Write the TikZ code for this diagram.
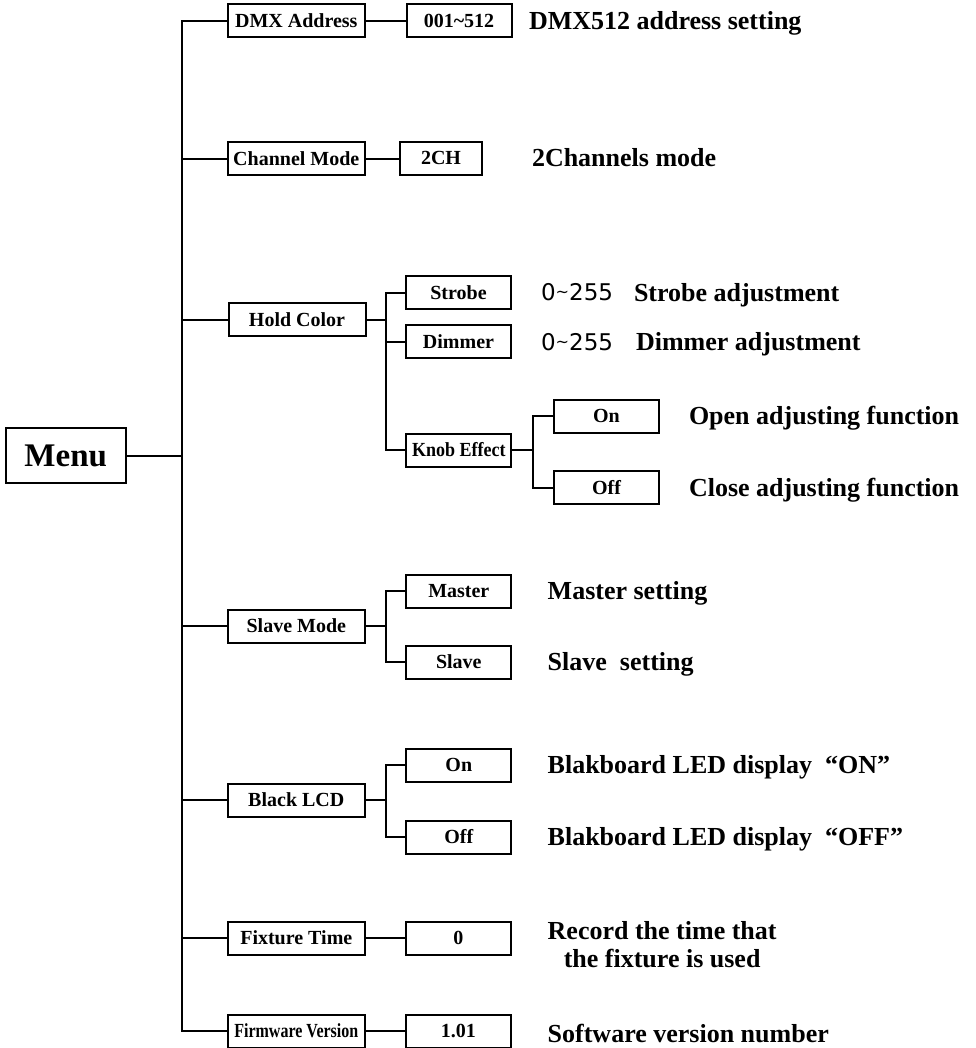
\documentclass[tikz,border=0pt]{standalone}
\usepackage{fontspec}
\setmainfont{Liberation Serif}
\newfontfamily\numfont{DejaVu Sans}
\usetikzlibrary{positioning}

\begin{document}
\begin{tikzpicture}[x=0.5pt, y=-0.5pt, line width=1pt,
  itembox/.style={draw, inner sep=0pt, minimum width=68.5pt, minimum height=16.5pt,
    text height=6.6pt, text depth=0pt, font=\bfseries\fontsize{10}{12}\selectfont},
  valbox/.style={itembox, minimum width=52.5pt},
  note/.style={anchor=west, inner sep=0pt, text height=8.6pt, text depth=0pt,
    font=\bfseries\fontsize{13}{15}\selectfont},
  rangeval/.style={anchor=west, inner sep=0pt, text height=8.4pt, text depth=0pt,
    font=\numfont\fontsize{11.5}{13}\selectfont}]
  \useasboundingbox (0,0) rectangle (975,1048);

  % root
  \node[draw, inner sep=0pt, minimum width=60pt, minimum height=27.7pt,
    font=\bfseries\fontsize{16.5}{18}\selectfont] (menu) at (65.7,455.7) {Menu};

  % first level
  \node[itembox] (dmx)   at (296.3,20.7)  {DMX Address};
  \node[itembox] (chan)  at (296.3,158.8) {Channel Mode};
  \node[itembox] (hold)  at (297,319.7)   {Hold Color};
  \node[itembox] (slave) at (296.3,626)   {Slave Mode};
  \node[itembox] (black) at (296.3,800)   {Black LCD};
  \node[itembox] (fix)   at (296.3,938)   {Fixture Time};
  \node[itembox] (fw)    at (296.3,1031)  {\scalebox{0.8}[1]{Firmware Version}};

  % trunk
  \coordinate (t1) at (181.7,20.7);
  \coordinate (t2) at (181.7,1031);
  \draw (dmx.west) -- (t1) -- (t2) -- (fw.west);
  \draw (menu.east) -- (menu.east -| t1);
  \foreach \n in {chan,hold,slave,black,fix}
    \draw (\n.west) -- (\n.west -| t1);

  % second level
  \node[valbox] (addr) at (459,20.7) {001\textasciitilde512};
  \node[valbox, minimum width=41pt] (ch) at (441,158.2) {2CH};
  \draw (dmx) -- (addr);
  \draw (chan.east) -- (chan.east -| ch.west);

  \node[valbox] (strobe) at (458.5,292.5) {Strobe};
  \node[valbox] (dimmer) at (458.5,341.7) {Dimmer};
  \node[valbox] (knob)   at (458.8,450)   {\scalebox{0.9}[1]{Knob Effect}};
  \coordinate (h) at (385.7,319.7);
  \draw (hold.east) -- (h);
  \draw (strobe.west) -| (h) |- (knob.west);
  \draw (dimmer.west) -- (dimmer.west -| h);

  \node[valbox] (kon)  at (606.5,416)   {On};
  \node[valbox] (koff) at (606.5,487.5) {Off};
  \coordinate (k) at (532.7,450);
  \draw (knob.east) -- (k);
  \draw (kon.west) -| (k) |- (koff.west);

  \node[valbox] (master) at (458.8,591)   {Master};
  \node[valbox] (slv)    at (458.8,662.3) {Slave};
  \coordinate (s) at (385.7,626);
  \draw (slave.east) -- (s);
  \draw (master.west) -| (s) |- (slv.west);

  \node[valbox] (lon)  at (458.8,765) {On};
  \node[valbox] (loff) at (458.8,837) {Off};
  \coordinate (b) at (385.7,800);
  \draw (black.east) -- (b);
  \draw (lon.west) -| (b) |- (loff.west);

  \node[valbox] (zero) at (458.3,938)  {0};
  \node[valbox] (ver)  at (458.3,1031) {1.01};
  \draw (fix) -- (zero);
  \draw (fw) -- (ver);

  % notes
  \node[note] (addrnote) at (528,20.7) {DMX512 address setting};
  \node[note] (chnote) at (531,158) {2Channels mode};
  \node[rangeval] (strobeval) at (540,292.5) {0\raisebox{1.5pt}{\scalebox{0.7}{\textasciitilde}}255};
  \node[note] (strobenote) at (633,292.5) {Strobe adjustment};
  \node[rangeval] (dimmerval) at (540,341.7) {0\raisebox{1.5pt}{\scalebox{0.7}{\textasciitilde}}255};
  \node[note] (dimmernote) at (635,341.7) {Dimmer adjustment};
  \node[note] (konnote) at (688,416) {Open adjusting function};
  \node[note] (koffnote) at (688,488) {Close adjusting function};
  \node[note] (masternote) at (546.7,591) {Master setting};
  \node[note] (slvnote) at (546.7,662) {Slave\ \ setting};
  \node[note] (lonnote) at (546.7,765) {Blakboard LED display\hspace{0.5em}“ON”};
  \node[note] (loffnote) at (546.7,837) {Blakboard LED display\hspace{0.5em}“OFF”};
  \node[anchor=west, inner sep=0pt, align=center, font=\bfseries\fontsize{13}{14}\selectfont]
    (zeronote) at (546.7,945) {Record the time that\\the fixture is used};
  \node[note] (vernote) at (546.7,1034) {Software version number};
\end{tikzpicture}
\end{document}
